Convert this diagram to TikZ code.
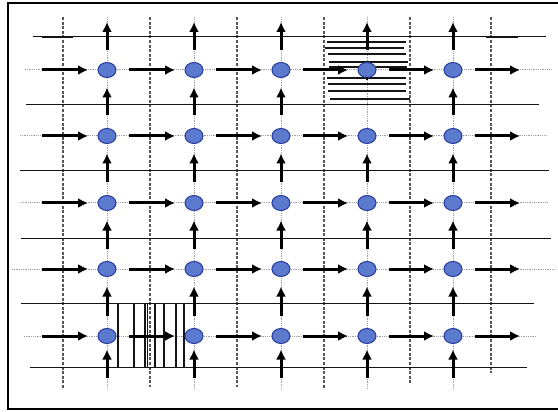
\documentclass[tikz,border=0pt]{standalone}
\usetikzlibrary{arrows.meta,shapes.geometric}
\definecolor{nodefill}{RGB}{92,122,205}
\definecolor{nodeedge}{RGB}{40,60,160}
\definecolor{dashgray}{RGB}{85,85,85}
\definecolor{dotgray}{RGB}{160,160,160}
\definecolor{linegray}{RGB}{20,20,20}
\begin{document}
\begin{tikzpicture}[x=1pt,y=-1pt,
  cell/.style={ellipse,draw=nodeedge,fill=nodefill,line width=1pt,minimum width=18pt,minimum height=15pt,inner sep=0pt,outer sep=0pt},
  flow/.style={line width=3pt,-{Latex[length=10pt,width=10pt]},black},
  gridline/.style={line width=1pt,linegray},
  thickseg/.style={line width=2.6pt,linegray},
  boundary/.style={dash pattern=on 3pt off 1.6pt,line width=1.3pt,dashgray},
  guide/.style={dash pattern=on 1pt off 0.8pt,line width=1pt,dotgray},
  hatch/.style={line width=1.3pt,linegray},
  frame/.style={line width=1.3pt,black}]
\useasboundingbox (0,0) rectangle (558,412);
\fill[white] (0,0) rectangle (558,412);
\draw[frame] (566,3) -- (8,3) -- (8,409) -- (566,409);

% dashed boundaries
\foreach \x/\yb in {63/388,150/387,237/387,324/388,410/383,491/373}
  \draw[boundary] (\x,17) -- (\x,\yb);

% dotted guides
\foreach \x in {107,194,281,367,453}
  \draw[guide] (\x,17) -- (\x,388);
\foreach \y/\xa/\xb in {70/25/552,136/20/547,203/21/548,269/12/555,336/24/536}
  \draw[guide] (\xa,\y) -- (\xb,\y);

% solid horizontal lines
\foreach \y/\xa/\xb in {37/33/546,105/26/539,171/20/549,238/21/551,303/21/534,367/30/527}
  \draw[gridline] (\xa,\y) -- (\xb,\y);
\draw[thickseg] (42,37) -- (73,37);
\draw[thickseg] (486,37) -- (518,37);

% hatching top right
\foreach \y/\xa/\xb in {42/327/406,48/325/404,54/328/406,62/329/408,67/329/407,78/327/406,84/328/406,91/328/406,99/330/410}
  \draw[hatch] (\xa,\y) -- (\xb,\y);
% hatching bottom left
\foreach \x in {118,134,145,147.5,155,164,176,184}
  \draw[hatch] (\x,303) -- (\x,368);

% nodes
\foreach \c/\x in {1/107,2/194,3/281,4/367,5/453}
  \foreach \r/\y in {1/70,2/136,3/203,4/269,5/336}
    \node[cell] (n\r\c) at (\x,\y) {};

% horizontal arrows
\foreach \r/\y in {1/70,2/136,3/203,4/269,5/336}{
  \coordinate (hs\r) at (42,\y);
  \coordinate (he\r) at (520,\y);
  \draw[flow,shorten >=10pt] (hs\r) -- (n\r1);
  \foreach \a/\b in {1/2,2/3,3/4,4/5}
    \draw[flow,shorten <=13pt,shorten >=10pt] (n\r\a) -- (n\r\b);
  \draw[flow,shorten <=13pt] (n\r5) -- (he\r);
}

% vertical arrows
\foreach \c/\x in {1/107,2/194,3/281,4/367,5/453}{
  \coordinate (vt\c) at (\x,22);
  \coordinate (vb\c) at (\x,378);
  \draw[flow,shorten <=12pt] (n1\c) -- (vt\c);
  \foreach \a/\b in {2/1,3/2,4/3,5/4}{
    \ifnum\c\a=42 \else
      \draw[flow,shorten <=13pt,shorten >=10pt] (n\a\c) -- (n\b\c);
    \fi
  }
  \draw[flow,shorten >=6pt] (vb\c) -- (n5\c);
}
\draw[line width=2.4pt,black] (n14.south) -- ++(0,3);
\end{tikzpicture}
\end{document}
